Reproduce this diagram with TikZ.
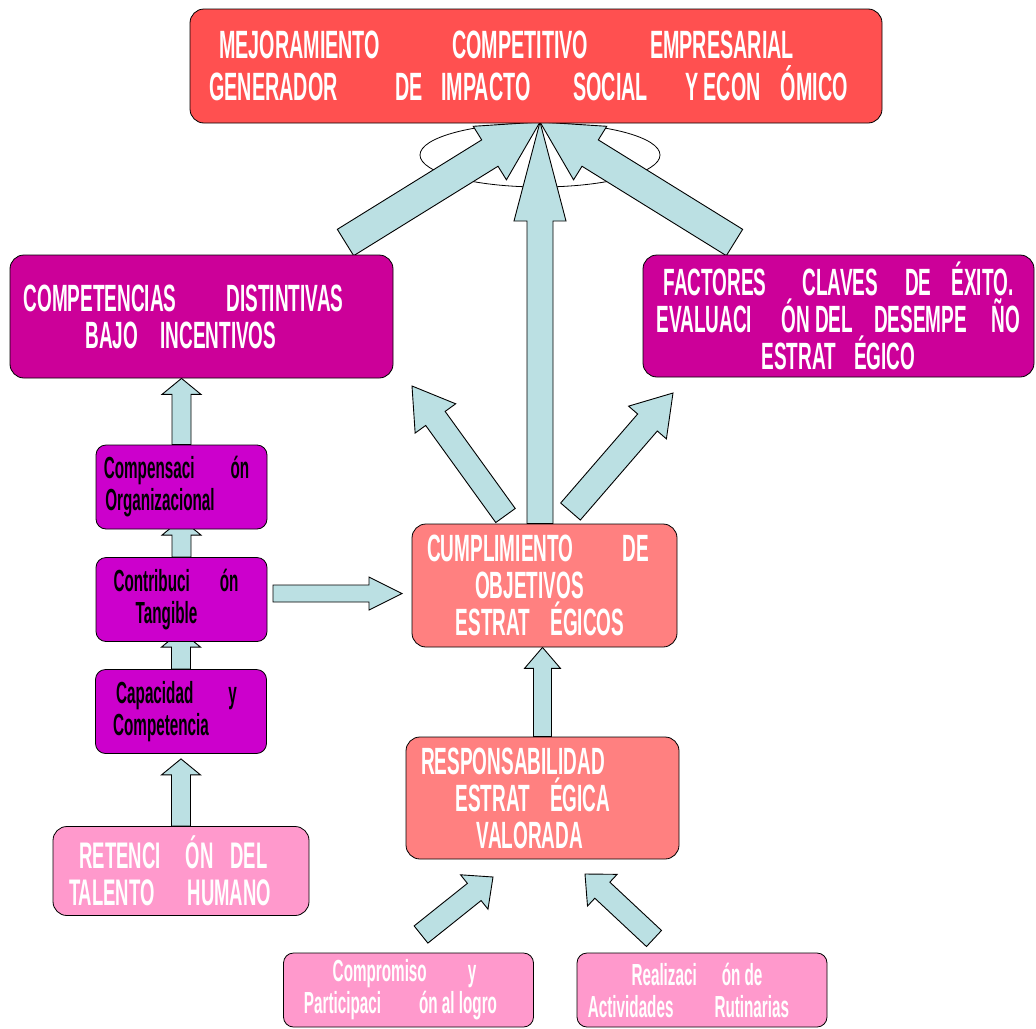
\documentclass[tikz,border=0pt]{standalone}
\usepackage{fontspec}
\setmainfont{Liberation Sans}[FakeStretch=0.5]
\usetikzlibrary{calc,backgrounds}

\definecolor{topred}{HTML}{FF5050}
\definecolor{deepmag}{HTML}{CC0099}
\definecolor{stepviolet}{HTML}{CC00CC}
\definecolor{objred}{HTML}{FF8080}
\definecolor{softpink}{HTML}{FF99CC}
\definecolor{arrowblue}{HTML}{BBE0E3}

\newcommand{\gap}[1]{\hspace{#1pt}}
% block arrow: tail, tip, half shaft, half head, head length
\newcommand{\blockarrow}[5]{%
  \coordinate (ba) at ($(#2)!#5pt!(#1)$);
  \draw[arrowbody] ($(#1)!#3pt!90:(#2)$) -- ($(ba)!#3pt!90:(#2)$) -- ($(ba)!#4pt!90:(#2)$) -- (#2)
    -- ($(ba)!#4pt!-90:(#2)$) -- ($(ba)!#3pt!-90:(#2)$) -- ($(#1)!#3pt!-90:(#2)$) -- cycle;}

\begin{document}
\begin{tikzpicture}[x=1pt,y=-1pt,
  box/.style={draw=black,line width=0.8pt,rounded corners=14pt,align=center,inner sep=0pt,text=white},
  bigtext/.style={font=\bfseries\fontsize{38}{37}\selectfont},
  stepbox/.style={box,fill=stepviolet,text=black,rounded corners=10pt,minimum width=171,minimum height=84,
    font=\bfseries\fontsize{30.5}{32}\selectfont},
  basebox/.style={box,fill=softpink,rounded corners=10pt,minimum width=250,minimum height=74,
    font=\bfseries\fontsize{30.5}{32}\selectfont},
  arrowbody/.style={draw=black,fill=arrowblue,line width=0.9pt,line join=miter}]
\useasboundingbox (0,0) rectangle (1036,1028);

\node[box,fill=topred,minimum width=692,minimum height=114,font=\bfseries\fontsize{39.5}{42}\selectfont] (top) at (536,66)
  {MEJORAMIENTO\gap{72}COMPETITIVO\gap{62}EMPRESARIAL\kern59pt\\GENERADOR\gap{58}DE\gap{18}IMPACTO\gap{43}SOCIAL\gap{37}Y ECON\gap{20}ÓMICO\kern15pt};

\node[box,fill=deepmag,minimum width=383,minimum height=123,bigtext] (comp) at (201.5,316.5)
  {COMPETENCIAS\gap{50}DISTINTIVAS\kern36pt\\BAJO\gap{22}INCENTIVOS\kern41pt};
\node[box,fill=deepmag,minimum width=391,minimum height=122,bigtext] (fact) at (838.5,316)
  {FACTORES\gap{36}CLAVES\gap{27}DE\gap{20}ÉXITO.\\EVALUACI\gap{29}ÓN DEL\gap{21}DESEMPE\gap{25}ÑO\\ESTRAT\gap{18}ÉGICO};

\node[box,fill=objred,minimum width=265,minimum height=123,bigtext] (cump) at (544.5,585.5)
  {CUMPLIMIENTO\gap{49}DE\kern13pt\\OBJETIVOS\kern30pt\\ESTRAT\gap{20}ÉGICOS\kern9pt};
\node[box,fill=objred,minimum width=273,minimum height=122,bigtext] (resp) at (542.5,798)
  {RESPONSABILIDAD\kern59pt\\ESTRAT\gap{20}ÉGICA\kern19pt\\VALORADA\kern25pt};

\node[stepbox] (compens) at (181.5,487) {Compensaci\gap{36}ón\kern10pt\\Organizacional\kern43pt};
\node[stepbox] (contrib) at (181.5,599.5) {Contribuci\gap{30}ón\kern11pt\\Tangible\kern30pt};
\node[stepbox] (capac) at (181,711.5) {Capacidad\gap{35}y\kern9pt\\Competencia\kern40pt};

\node[box,fill=softpink,minimum width=256,minimum height=89,font=\bfseries\fontsize{37}{37}\selectfont] (reten) at (181,871)
  {RETENCI\gap{25}ÓN\gap{17}DEL\kern15pt\\TALENTO\gap{33}HUMANO\kern22pt};

\node[basebox] (compro) at (408.5,990) {Compromiso\gap{41}y\kern8pt\\Participaci\gap{38}ón al logro\kern16pt};
\node[basebox] (realiz) at (702,990) {Realizaci\gap{25}ón de\kern10pt\\Actividades\gap{41}Rutinarias\kern27pt};

\coordinate (hub) at (540,122);
\coordinate (lefttail) at (345.5,242.5);
\coordinate (righttail) at (734.5,242.5);
\coordinate (cumpl) at (505.5,515.5);
\coordinate (cumpltip) at (412,386);
\coordinate (cumpr) at (570.5,511.5);
\coordinate (cumprtip) at (673,393);
\coordinate (contribtail) at (273,593.5);
\coordinate (contribtip) at (402,593.5);
\coordinate (comprotail) at (421,934.5);
\coordinate (comprotip) at (493,877);
\coordinate (realiztail) at (654,938.5);
\coordinate (realiztip) at (585,874);

\begin{pgfonlayer}{background}
  \draw[line width=0.8pt] (540,155) ellipse [x radius=120, y radius=32];
  \blockarrow{lefttail}{hub}{15.5}{31.5}{59}
  \blockarrow{righttail}{hub}{15.5}{31.5}{59}
  \blockarrow{hub |- cump.north}{hub}{13}{26}{99}
  \blockarrow{cumpl}{cumpltip}{12}{25}{40}
  \blockarrow{cumpr}{cumprtip}{13}{25}{39}
  \blockarrow{resp.north}{resp.north |- cump.south}{9}{18}{21}
  \blockarrow{contribtail}{contribtip}{8.5}{16.5}{33}
  \blockarrow{compens.north}{compens.north |- comp.south}{9.5}{19.5}{16}
  \blockarrow{reten.north}{$(capac.south)+(0,5)$}{9.5}{19.5}{16}
  \blockarrow{contrib.north}{$(contrib.north)+(0,-38)$}{9.5}{19.5}{16}
  \blockarrow{capac.north}{$(capac.north)+(0,-38)$}{9.5}{19.5}{16}
  \blockarrow{comprotail}{comprotip}{11}{22}{24}
  \blockarrow{realiztail}{realiztip}{11}{21.7}{23.7}
\end{pgfonlayer}
\end{tikzpicture}
\end{document}
